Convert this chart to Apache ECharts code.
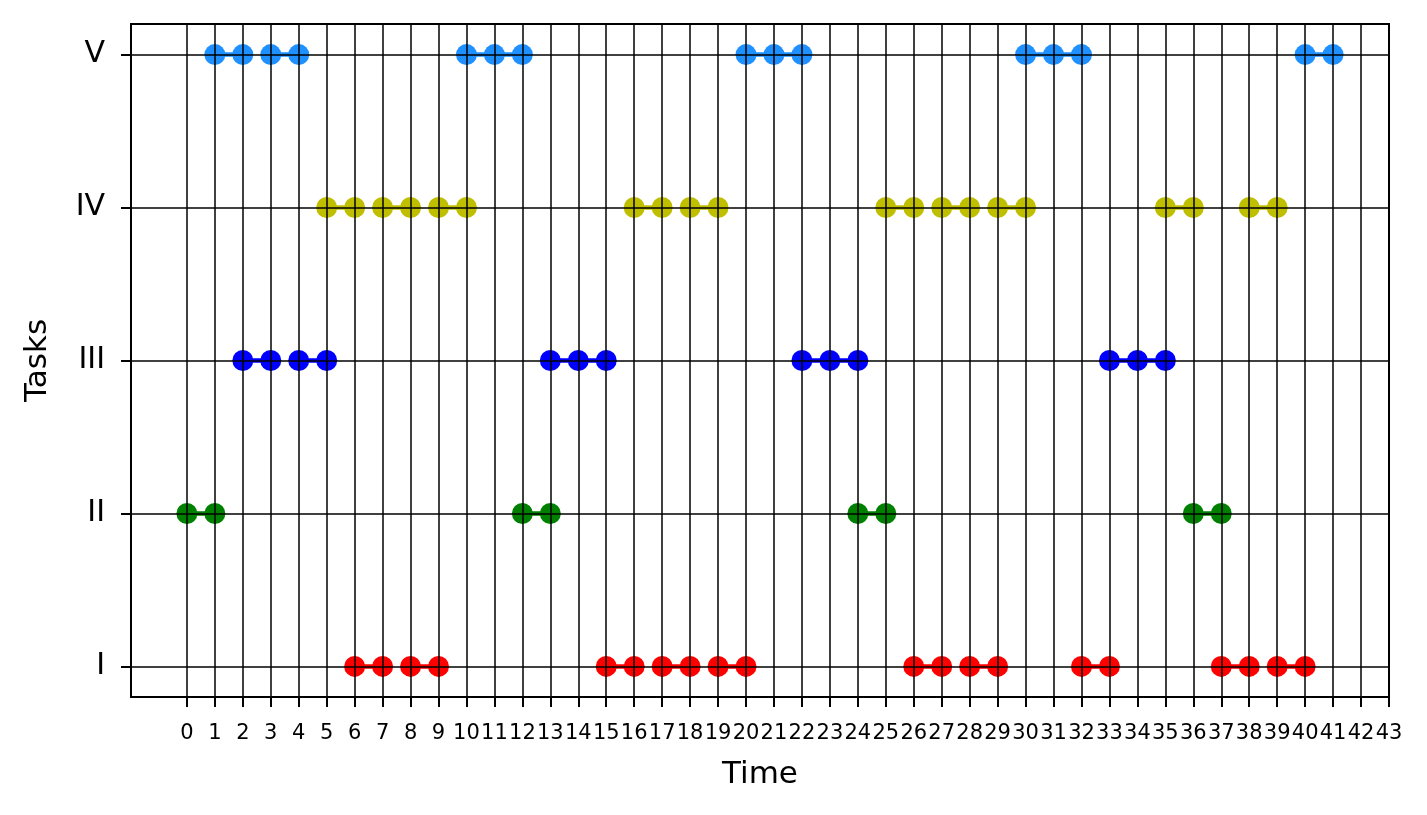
<!DOCTYPE html>
<html>
<head>
<meta charset="utf-8">
<script src="https://cdn.jsdelivr.net/npm/echarts@6/dist/echarts.min.js"></script>
<style>
html,body{margin:0;padding:0;background:#fff;}
#chart{width:1427px;height:815px;}
</style>
</head>
<body>
<div id="chart"></div>
<script>
// Task levels and their labels
const taskLevels = [1, 2, 3, 4, 5];
const taskNames = ['I', 'II', 'III', 'IV', 'V'];
const taskColors = ['#FF0000', '#008000', '#0000FF', '#BFBF00', '#1E90FF'];

// Segments (time points connected) per task
const segmentsI = [[6, 7], [8, 9], [15, 16], [17, 18], [19, 20], [26, 27], [28, 29], [32, 33], [37, 38], [39, 40]];
const segmentsII = [[0, 1], [12, 13], [24, 25], [36, 37]];
const segmentsIII = [[2, 3], [4, 5], [13, 14, 15], [22, 23, 24], [33, 34, 35]];
const segmentsIV = [[5, 6], [7, 8], [9, 10], [16, 17], [18, 19], [25, 26], [27, 28], [29, 30], [35, 36], [38, 39]];
const segmentsV = [[1, 2], [3, 4], [10, 11, 12], [20, 21, 22], [30, 31, 32], [40, 41]];

// X tick values
const xTicks = [0, 1, 2, 3, 4, 5, 6, 7, 8, 9, 10, 11, 12, 13, 14, 15, 16, 17, 18, 19, 20, 21,
  22, 23, 24, 25, 26, 27, 28, 29, 30, 31, 32, 33, 34, 35, 36, 37, 38, 39, 40, 41, 42, 43];

const allSegments = [segmentsI, segmentsII, segmentsIII, segmentsIV, segmentsV];

function buildData(segs, level) {
  const out = [];
  segs.forEach(function (seg, i) {
    seg.forEach(function (x) { out.push([x, level]); });
    if (i < segs.length - 1) out.push(['-', '-']);
  });
  return out;
}

const FONT = 'DejaVu Sans';

const series = [{
  type: 'line',
  data: [],
  z: 1,
  silent: true,
  markLine: {
    silent: true,
    symbol: ['none', 'none'],
    animation: false,
    label: { show: false },
    lineStyle: { color: '#000', width: 1.5, type: 'solid' },
    emphasis: { disabled: true },
    data: xTicks.map(function (v) { return { xAxis: v }; })
      .concat(taskLevels.map(function (v) { return { yAxis: v }; }))
  }
}];

allSegments.forEach(function (segs, i) {
  series.push({
    type: 'line',
    name: taskNames[i],
    data: buildData(segs, taskLevels[i]),
    z: 3,
    symbol: 'circle',
    symbolSize: 21,
    showAllSymbol: true,
    connectNulls: false,
    color: taskColors[i],
    lineStyle: { color: taskColors[i], width: 4.5 },
    itemStyle: { color: taskColors[i], borderWidth: 0 },
    animation: false
  });
});

const chart = echarts.init(document.getElementById('chart'), null, { renderer: 'canvas' });
chart.setOption({
  backgroundColor: '#fff',
  animation: false,
  grid: {
    left: 131, right: 38, top: 24, bottom: 118,
    show: true, borderColor: '#000', borderWidth: 2, backgroundColor: 'transparent'
  },
  xAxis: {
    type: 'value',
    min: -2, max: 43, interval: 1,
    name: 'Time',
    nameLocation: 'middle',
    nameGap: 62,
    nameTextStyle: { fontFamily: FONT, fontSize: 31, color: '#000' },
    axisLine: { show: true, onZero: false, lineStyle: { color: '#000', width: 2 } },
    splitLine: { show: false },
    axisTick: { show: true, inside: false, length: 10, lineStyle: { color: '#000', width: 2 }, customValues: xTicks },
    axisLabel: {
      customValues: xTicks,
      fontFamily: FONT, fontSize: 21, color: '#000', margin: 26,
      formatter: function (v) { return String(v); }
    }
  },
  yAxis: {
    type: 'value',
    min: 0.8, max: 5.2,
    name: 'Tasks',
    nameLocation: 'middle',
    nameGap: 78,
    nameRotate: 90,
    nameTextStyle: { fontFamily: FONT, fontSize: 31, color: '#000' },
    axisLine: { show: true, onZero: false, lineStyle: { color: '#000', width: 2 } },
    splitLine: { show: false },
    axisTick: { show: true, inside: false, length: 10, lineStyle: { color: '#000', width: 2 }, customValues: taskLevels },
    axisLabel: {
      customValues: taskLevels,
      fontFamily: FONT, fontSize: 30, color: '#000', margin: 26,
      formatter: function (v) {
        const idx = taskLevels.indexOf(Math.round(v));
        return idx >= 0 ? taskNames[idx] : '';
      }
    }
  },
  series: series
});
</script>
</body>
</html>
